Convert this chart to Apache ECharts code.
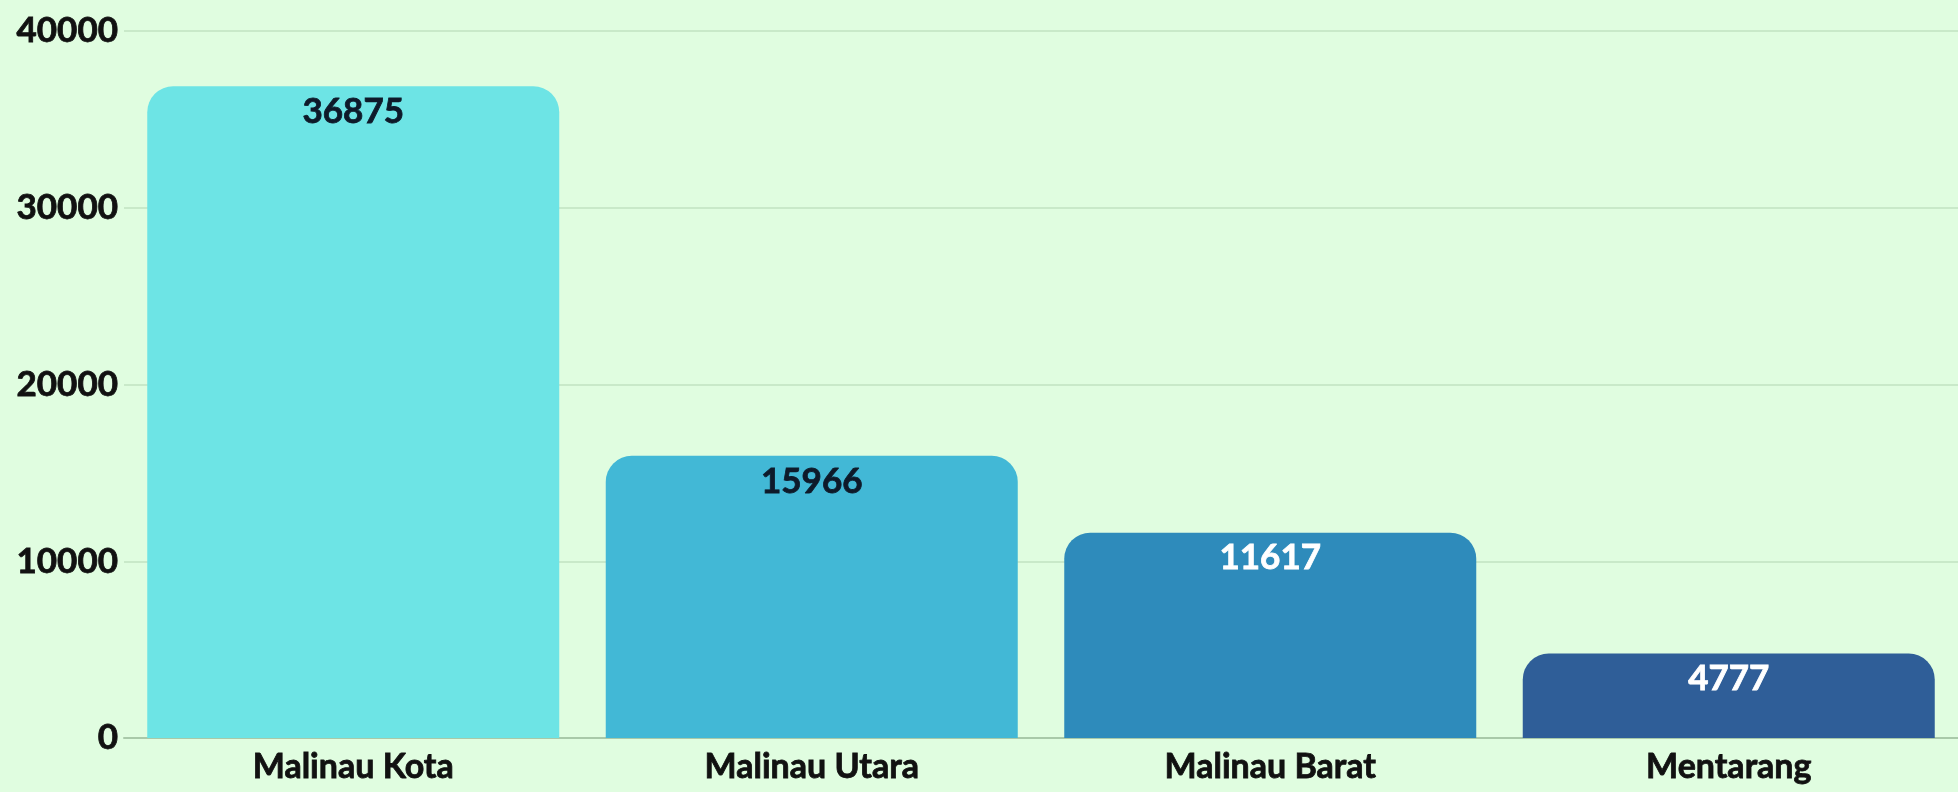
<!DOCTYPE html>
<html>
<head>
<meta charset="utf-8">
<script src="https://cdn.jsdelivr.net/npm/echarts@6/dist/echarts.min.js"></script>
<style>
	html, body { margin: 0; padding: 0; background: #e0fde0; }
	#main { width: 1958px; height: 792px; }
</style>
</head>
<body>
<div id="main"></div>
<script>
	var categories = ['Malinau Kota', 'Malinau Utara', 'Malinau Barat', 'Mentarang'];
	var values = [36875, 15966, 11617, 4777];
	var barColors = ['#6de4e5', '#42b8d6', '#2e8bbb', '#2f5e98'];
	var labelColors = ['#0e1a2a', '#0e1a2a', '#ffffff', '#ffffff'];
	var yTicks = { min: 0, max: 40000, interval: 10000 };

	var chart = echarts.init(document.getElementById('main'));
	chart.setOption({
		backgroundColor: '#e0fde0',
		animation: false,
		grid: { left: 124, right: -4, top: 31, bottom: 54 },
		xAxis: {
			type: 'category',
			data: categories,
			axisTick: { show: false },
			axisLine: { lineStyle: { color: '#a9c9a9', width: 2 } },
			axisLabel: {
				color: '#111111',
				fontFamily: 'Lato',
				fontWeight: 'bold',
				fontSize: 34,
				margin: 12,
				textBorderColor: '#111111',
				textBorderWidth: 0.8
			}
		},
		yAxis: {
			type: 'value',
			min: yTicks.min,
			max: yTicks.max,
			interval: yTicks.interval,
			axisLabel: {
				color: '#111111',
				fontFamily: 'Lato',
				fontWeight: 'bold',
				fontSize: 35,
				margin: 6,
				formatter: function (v) { return String(v); },
				textBorderColor: '#111111',
				textBorderWidth: 0.8
			},
			splitLine: { lineStyle: { color: '#c2e2c2', width: 1.5 } }
		},
		series: [{
			type: 'bar',
			barWidth: 412,
			data: values.map(function (v, i) {
				return {
					value: v,
					itemStyle: { color: barColors[i], borderRadius: [26, 26, 0, 0] },
					label: { color: labelColors[i], textBorderColor: labelColors[i] }
				};
			}),
			label: {
				show: true,
				position: 'insideTop',
				distance: 8,
				fontFamily: 'Lato',
				fontWeight: 'bold',
				fontSize: 35,
				textBorderWidth: 0.8
			}
		}]
	});
</script>
</body>
</html>
